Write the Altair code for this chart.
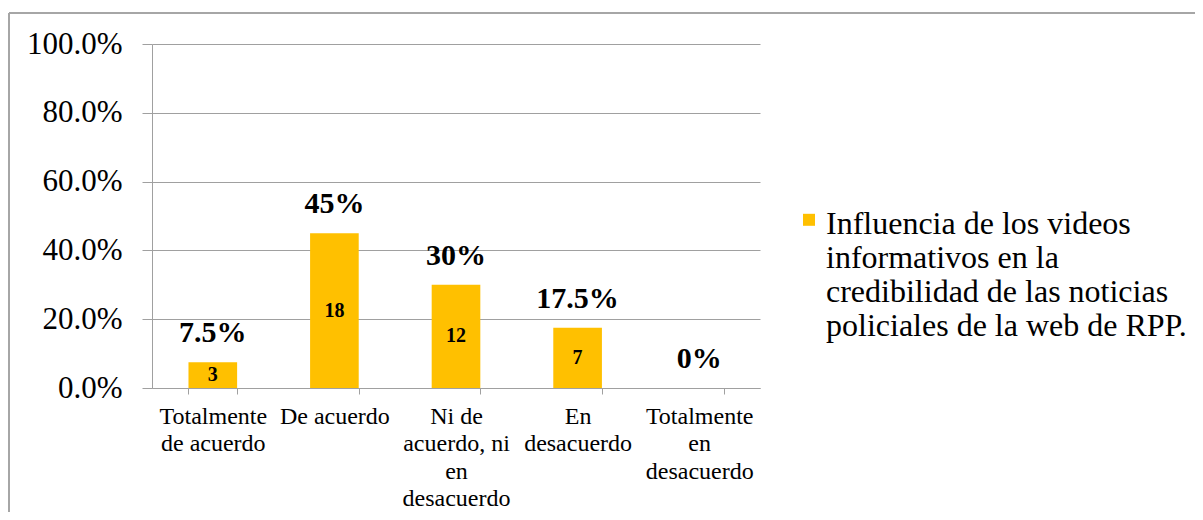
import json
import altair as alt
import pandas as pd

CATEGORIES = [
    "Totalmente de acuerdo",
    "De acuerdo",
    "Ni de acuerdo, ni en desacuerdo",
    "En desacuerdo",
    "Totalmente en desacuerdo",
]
CATEGORY_LINES = [
    ["Totalmente", "de acuerdo"],
    ["De acuerdo"],
    ["Ni de", "acuerdo, ni", "en", "desacuerdo"],
    ["En", "desacuerdo"],
    ["Totalmente", "en", "desacuerdo"],
]
PERCENTS = [0.075, 0.45, 0.30, 0.175, 0.0]
PERCENT_LABELS = ["7.5%", "45%", "30%", "17.5%", "0%"]
COUNTS = [3, 18, 12, 7, 0]
SERIES = ("Influencia de los videos informativos en la credibilidad "
          "de las noticias policiales de la web de RPP.")
SERIES_LINES = [
    "Influencia de los videos",
    "informativos en la",
    "credibilidad de las noticias",
    "policiales de la web de RPP.",
]
Y_TICKS = [0.0, 0.2, 0.4, 0.6, 0.8, 1.0]

FONT = "Liberation Serif, Times New Roman, serif"
GOLD = "#FFC000"
GREY = "#A0A0A0"

df = pd.DataFrame({
    "cat": CATEGORIES,
    "pct": PERCENTS,
    "label": PERCENT_LABELS,
    "n": COUNTS,
    "series": [SERIES] * len(CATEGORIES),
})

x_label_expr = json.dumps(dict(zip(CATEGORIES, CATEGORY_LINES)), ensure_ascii=False) + "[datum.label]"
legend_label_expr = json.dumps({SERIES: SERIES_LINES}, ensure_ascii=False) + "[datum.label]"

x_enc = alt.X(
    "cat:N", sort=CATEGORIES, title=None,
    scale=alt.Scale(paddingInner=0.6, paddingOuter=0.3),
    axis=alt.Axis(labelAngle=0, tickBand="extent", tickSize=6, labelPadding=10,
                  labelFont=FONT, labelFontSize=24, labelLineHeight=27.5, labelLimit=300,
                  labelExpr=x_label_expr, grid=False),
)

base = alt.Chart(df).encode(x=x_enc)

# square symbol drawn slightly below the entry centre so it sits beside the first line
SYMBOL_PATH = "M-1,0.8L1,0.8L1,2.8L-1,2.8Z"

bars = base.mark_bar().encode(
    y=alt.Y("pct:Q", title=None, scale=alt.Scale(domain=[0, 1]),
            axis=alt.Axis(values=Y_TICKS, format=".1%", tickSize=10, labelPadding=20,
                          labelFont=FONT, labelFontSize=31, grid=True)),
    color=alt.Color("series:N", scale=alt.Scale(domain=[SERIES], range=[GOLD]),
                    legend=alt.Legend(title=None, orient="none", legendX=641, legendY=149,
                                      symbolType=SYMBOL_PATH, symbolSize=144,
                                      symbolStrokeWidth=0, labelFont=FONT,
                                      labelFontSize=32, labelLimit=600, labelOffset=1,
                                      labelBaseline="top", labelColor="black",
                                      labelExpr=legend_label_expr, padding=0)),
)

value_text = base.mark_text(font=FONT, fontSize=30, fontWeight="bold", baseline="alphabetic",
                            dy=-20, color="black").encode(y="pct:Q", text="label:N")

count_text = base.transform_filter("datum.n > 0").transform_calculate(
    mid="datum.pct / 2"
).mark_text(font=FONT, fontSize=20, fontWeight="bold", baseline="middle",
            color="black").encode(y="mid:Q", text="n:Q")

frame_df = pd.DataFrame({"k": [0]})
frame_top = alt.Chart(frame_df).mark_rule(color="#A6A6A6", strokeWidth=2).encode(
    x=alt.value(-143), x2=alt.value(1043), y=alt.value(-31))
frame_left = alt.Chart(frame_df).mark_rule(color="#A6A6A6", strokeWidth=2).encode(
    x=alt.value(-143), y=alt.value(-31), y2=alt.value(468))

chart = alt.layer(frame_top, frame_left, bars, value_text, count_text).properties(
    width=608, height=344,
    padding={"left": 144, "top": 36, "right": 435, "bottom": 124},
    autosize=alt.AutoSizeParams(type="none"),
).configure(font=FONT).configure_axis(
    labelFont=FONT, labelColor="black", domainColor=GREY, tickColor=GREY,
    gridColor=GREY, domainWidth=1, tickWidth=1, gridWidth=1,
).configure_text(font=FONT).configure_view(stroke=None)

chart.save("out.html", embed_options={"renderer": "svg", "actions": False})
